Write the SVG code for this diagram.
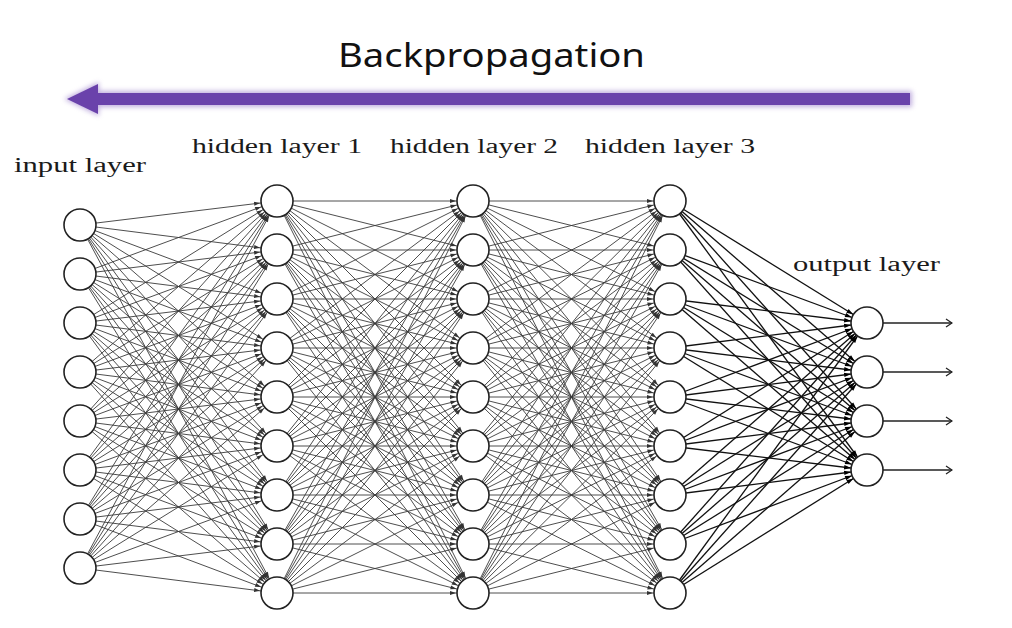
<svg xmlns="http://www.w3.org/2000/svg" width="1012" height="628" viewBox="0 0 1012 628">
<style>
.e1{stroke:#3a3a3a;stroke-width:0.9;marker-end:url(#ah)}
.e2{stroke:#111;stroke-width:1.3;marker-end:url(#ah2)}
.out{stroke:#222;stroke-width:1.3;marker-end:url(#chev)}
.node circle{fill:#fff;stroke:#222;stroke-width:1.6}
.lbl{font-family:"Liberation Serif","DejaVu Serif",serif;font-size:20px;fill:#1a1a1a}
.title{font-family:"Noto Sans","Lato",sans-serif;font-size:33px;fill:#111}
</style>
<defs>
<marker id="ah" viewBox="0 0 26 8" refX="24" refY="4" markerWidth="26" markerHeight="8" markerUnits="userSpaceOnUse" orient="auto"><path d="M1,2 L7,4 L1,6 z" fill="#333"/></marker>
<marker id="ah2" viewBox="0 0 26 8" refX="24" refY="4" markerWidth="26" markerHeight="8" markerUnits="userSpaceOnUse" orient="auto"><path d="M1,1.8 L8,4 L1,6.2 z" fill="#000"/></marker>
<marker id="chev" viewBox="0 0 8 10" refX="7" refY="5" markerWidth="8" markerHeight="10" markerUnits="userSpaceOnUse" orient="auto"><path d="M1,1 L7,5 L1,9" fill="none" stroke="#222" stroke-width="1.3"/></marker>
<filter id="glow" x="-5%" y="-80%" width="110%" height="260%"><feGaussianBlur stdDeviation="2.5"/></filter>
</defs>
<rect width="1012" height="628" fill="#fff"/>
<g id="title">
<text class="title" x="338" y="67" textLength="307" lengthAdjust="spacingAndGlyphs">Backpropagation</text>
</g>
<g id="backprop-arrow">
<g filter="url(#glow)" opacity="0.55" fill="#8d6cc4">
<rect x="92" y="91" width="820" height="16"/>
<polygon points="64,99 99,82 99,116"/>
</g>
<rect x="95" y="93" width="815" height="12" fill="#6a42ab"/>
<polygon points="67,99 98,84 98,114" fill="#6a42ab"/>
</g>
<g id="labels">
<text class="lbl" x="14" y="172" textLength="132" lengthAdjust="spacingAndGlyphs">input layer</text>
<text class="lbl" x="192" y="153" textLength="170" lengthAdjust="spacingAndGlyphs">hidden layer 1</text>
<text class="lbl" x="390" y="153" textLength="168" lengthAdjust="spacingAndGlyphs">hidden layer 2</text>
<text class="lbl" x="585" y="153" textLength="170" lengthAdjust="spacingAndGlyphs">hidden layer 3</text>
<text class="lbl" x="793" y="271" textLength="147" lengthAdjust="spacingAndGlyphs">output layer</text>
</g>
<g id="connectors">
<g id="edges-input-h1">
<line class="e1" x1="80" y1="225" x2="277" y2="201"/><line class="e1" x1="80" y1="225" x2="277" y2="250"/><line class="e1" x1="80" y1="225" x2="277" y2="299"/><line class="e1" x1="80" y1="225" x2="277" y2="348"/><line class="e1" x1="80" y1="225" x2="277" y2="397"/><line class="e1" x1="80" y1="225" x2="277" y2="446"/><line class="e1" x1="80" y1="225" x2="277" y2="495"/><line class="e1" x1="80" y1="225" x2="277" y2="544"/><line class="e1" x1="80" y1="225" x2="277" y2="593"/>
<line class="e1" x1="80" y1="274" x2="277" y2="201"/><line class="e1" x1="80" y1="274" x2="277" y2="250"/><line class="e1" x1="80" y1="274" x2="277" y2="299"/><line class="e1" x1="80" y1="274" x2="277" y2="348"/><line class="e1" x1="80" y1="274" x2="277" y2="397"/><line class="e1" x1="80" y1="274" x2="277" y2="446"/><line class="e1" x1="80" y1="274" x2="277" y2="495"/><line class="e1" x1="80" y1="274" x2="277" y2="544"/><line class="e1" x1="80" y1="274" x2="277" y2="593"/>
<line class="e1" x1="80" y1="323" x2="277" y2="201"/><line class="e1" x1="80" y1="323" x2="277" y2="250"/><line class="e1" x1="80" y1="323" x2="277" y2="299"/><line class="e1" x1="80" y1="323" x2="277" y2="348"/><line class="e1" x1="80" y1="323" x2="277" y2="397"/><line class="e1" x1="80" y1="323" x2="277" y2="446"/><line class="e1" x1="80" y1="323" x2="277" y2="495"/><line class="e1" x1="80" y1="323" x2="277" y2="544"/><line class="e1" x1="80" y1="323" x2="277" y2="593"/>
<line class="e1" x1="80" y1="372" x2="277" y2="201"/><line class="e1" x1="80" y1="372" x2="277" y2="250"/><line class="e1" x1="80" y1="372" x2="277" y2="299"/><line class="e1" x1="80" y1="372" x2="277" y2="348"/><line class="e1" x1="80" y1="372" x2="277" y2="397"/><line class="e1" x1="80" y1="372" x2="277" y2="446"/><line class="e1" x1="80" y1="372" x2="277" y2="495"/><line class="e1" x1="80" y1="372" x2="277" y2="544"/><line class="e1" x1="80" y1="372" x2="277" y2="593"/>
<line class="e1" x1="80" y1="421" x2="277" y2="201"/><line class="e1" x1="80" y1="421" x2="277" y2="250"/><line class="e1" x1="80" y1="421" x2="277" y2="299"/><line class="e1" x1="80" y1="421" x2="277" y2="348"/><line class="e1" x1="80" y1="421" x2="277" y2="397"/><line class="e1" x1="80" y1="421" x2="277" y2="446"/><line class="e1" x1="80" y1="421" x2="277" y2="495"/><line class="e1" x1="80" y1="421" x2="277" y2="544"/><line class="e1" x1="80" y1="421" x2="277" y2="593"/>
<line class="e1" x1="80" y1="470" x2="277" y2="201"/><line class="e1" x1="80" y1="470" x2="277" y2="250"/><line class="e1" x1="80" y1="470" x2="277" y2="299"/><line class="e1" x1="80" y1="470" x2="277" y2="348"/><line class="e1" x1="80" y1="470" x2="277" y2="397"/><line class="e1" x1="80" y1="470" x2="277" y2="446"/><line class="e1" x1="80" y1="470" x2="277" y2="495"/><line class="e1" x1="80" y1="470" x2="277" y2="544"/><line class="e1" x1="80" y1="470" x2="277" y2="593"/>
<line class="e1" x1="80" y1="519" x2="277" y2="201"/><line class="e1" x1="80" y1="519" x2="277" y2="250"/><line class="e1" x1="80" y1="519" x2="277" y2="299"/><line class="e1" x1="80" y1="519" x2="277" y2="348"/><line class="e1" x1="80" y1="519" x2="277" y2="397"/><line class="e1" x1="80" y1="519" x2="277" y2="446"/><line class="e1" x1="80" y1="519" x2="277" y2="495"/><line class="e1" x1="80" y1="519" x2="277" y2="544"/><line class="e1" x1="80" y1="519" x2="277" y2="593"/>
<line class="e1" x1="80" y1="568" x2="277" y2="201"/><line class="e1" x1="80" y1="568" x2="277" y2="250"/><line class="e1" x1="80" y1="568" x2="277" y2="299"/><line class="e1" x1="80" y1="568" x2="277" y2="348"/><line class="e1" x1="80" y1="568" x2="277" y2="397"/><line class="e1" x1="80" y1="568" x2="277" y2="446"/><line class="e1" x1="80" y1="568" x2="277" y2="495"/><line class="e1" x1="80" y1="568" x2="277" y2="544"/><line class="e1" x1="80" y1="568" x2="277" y2="593"/>
</g>
<g id="edges-h1-h2">
<line class="e1" x1="277" y1="201" x2="473" y2="201"/><line class="e1" x1="277" y1="201" x2="473" y2="250"/><line class="e1" x1="277" y1="201" x2="473" y2="299"/><line class="e1" x1="277" y1="201" x2="473" y2="348"/><line class="e1" x1="277" y1="201" x2="473" y2="397"/><line class="e1" x1="277" y1="201" x2="473" y2="446"/><line class="e1" x1="277" y1="201" x2="473" y2="495"/><line class="e1" x1="277" y1="201" x2="473" y2="544"/><line class="e1" x1="277" y1="201" x2="473" y2="593"/>
<line class="e1" x1="277" y1="250" x2="473" y2="201"/><line class="e1" x1="277" y1="250" x2="473" y2="250"/><line class="e1" x1="277" y1="250" x2="473" y2="299"/><line class="e1" x1="277" y1="250" x2="473" y2="348"/><line class="e1" x1="277" y1="250" x2="473" y2="397"/><line class="e1" x1="277" y1="250" x2="473" y2="446"/><line class="e1" x1="277" y1="250" x2="473" y2="495"/><line class="e1" x1="277" y1="250" x2="473" y2="544"/><line class="e1" x1="277" y1="250" x2="473" y2="593"/>
<line class="e1" x1="277" y1="299" x2="473" y2="201"/><line class="e1" x1="277" y1="299" x2="473" y2="250"/><line class="e1" x1="277" y1="299" x2="473" y2="299"/><line class="e1" x1="277" y1="299" x2="473" y2="348"/><line class="e1" x1="277" y1="299" x2="473" y2="397"/><line class="e1" x1="277" y1="299" x2="473" y2="446"/><line class="e1" x1="277" y1="299" x2="473" y2="495"/><line class="e1" x1="277" y1="299" x2="473" y2="544"/><line class="e1" x1="277" y1="299" x2="473" y2="593"/>
<line class="e1" x1="277" y1="348" x2="473" y2="201"/><line class="e1" x1="277" y1="348" x2="473" y2="250"/><line class="e1" x1="277" y1="348" x2="473" y2="299"/><line class="e1" x1="277" y1="348" x2="473" y2="348"/><line class="e1" x1="277" y1="348" x2="473" y2="397"/><line class="e1" x1="277" y1="348" x2="473" y2="446"/><line class="e1" x1="277" y1="348" x2="473" y2="495"/><line class="e1" x1="277" y1="348" x2="473" y2="544"/><line class="e1" x1="277" y1="348" x2="473" y2="593"/>
<line class="e1" x1="277" y1="397" x2="473" y2="201"/><line class="e1" x1="277" y1="397" x2="473" y2="250"/><line class="e1" x1="277" y1="397" x2="473" y2="299"/><line class="e1" x1="277" y1="397" x2="473" y2="348"/><line class="e1" x1="277" y1="397" x2="473" y2="397"/><line class="e1" x1="277" y1="397" x2="473" y2="446"/><line class="e1" x1="277" y1="397" x2="473" y2="495"/><line class="e1" x1="277" y1="397" x2="473" y2="544"/><line class="e1" x1="277" y1="397" x2="473" y2="593"/>
<line class="e1" x1="277" y1="446" x2="473" y2="201"/><line class="e1" x1="277" y1="446" x2="473" y2="250"/><line class="e1" x1="277" y1="446" x2="473" y2="299"/><line class="e1" x1="277" y1="446" x2="473" y2="348"/><line class="e1" x1="277" y1="446" x2="473" y2="397"/><line class="e1" x1="277" y1="446" x2="473" y2="446"/><line class="e1" x1="277" y1="446" x2="473" y2="495"/><line class="e1" x1="277" y1="446" x2="473" y2="544"/><line class="e1" x1="277" y1="446" x2="473" y2="593"/>
<line class="e1" x1="277" y1="495" x2="473" y2="201"/><line class="e1" x1="277" y1="495" x2="473" y2="250"/><line class="e1" x1="277" y1="495" x2="473" y2="299"/><line class="e1" x1="277" y1="495" x2="473" y2="348"/><line class="e1" x1="277" y1="495" x2="473" y2="397"/><line class="e1" x1="277" y1="495" x2="473" y2="446"/><line class="e1" x1="277" y1="495" x2="473" y2="495"/><line class="e1" x1="277" y1="495" x2="473" y2="544"/><line class="e1" x1="277" y1="495" x2="473" y2="593"/>
<line class="e1" x1="277" y1="544" x2="473" y2="201"/><line class="e1" x1="277" y1="544" x2="473" y2="250"/><line class="e1" x1="277" y1="544" x2="473" y2="299"/><line class="e1" x1="277" y1="544" x2="473" y2="348"/><line class="e1" x1="277" y1="544" x2="473" y2="397"/><line class="e1" x1="277" y1="544" x2="473" y2="446"/><line class="e1" x1="277" y1="544" x2="473" y2="495"/><line class="e1" x1="277" y1="544" x2="473" y2="544"/><line class="e1" x1="277" y1="544" x2="473" y2="593"/>
<line class="e1" x1="277" y1="593" x2="473" y2="201"/><line class="e1" x1="277" y1="593" x2="473" y2="250"/><line class="e1" x1="277" y1="593" x2="473" y2="299"/><line class="e1" x1="277" y1="593" x2="473" y2="348"/><line class="e1" x1="277" y1="593" x2="473" y2="397"/><line class="e1" x1="277" y1="593" x2="473" y2="446"/><line class="e1" x1="277" y1="593" x2="473" y2="495"/><line class="e1" x1="277" y1="593" x2="473" y2="544"/><line class="e1" x1="277" y1="593" x2="473" y2="593"/>
</g>
<g id="edges-h2-h3">
<line class="e1" x1="473" y1="201" x2="670" y2="201"/><line class="e1" x1="473" y1="201" x2="670" y2="250"/><line class="e1" x1="473" y1="201" x2="670" y2="299"/><line class="e1" x1="473" y1="201" x2="670" y2="348"/><line class="e1" x1="473" y1="201" x2="670" y2="397"/><line class="e1" x1="473" y1="201" x2="670" y2="446"/><line class="e1" x1="473" y1="201" x2="670" y2="495"/><line class="e1" x1="473" y1="201" x2="670" y2="544"/><line class="e1" x1="473" y1="201" x2="670" y2="593"/>
<line class="e1" x1="473" y1="250" x2="670" y2="201"/><line class="e1" x1="473" y1="250" x2="670" y2="250"/><line class="e1" x1="473" y1="250" x2="670" y2="299"/><line class="e1" x1="473" y1="250" x2="670" y2="348"/><line class="e1" x1="473" y1="250" x2="670" y2="397"/><line class="e1" x1="473" y1="250" x2="670" y2="446"/><line class="e1" x1="473" y1="250" x2="670" y2="495"/><line class="e1" x1="473" y1="250" x2="670" y2="544"/><line class="e1" x1="473" y1="250" x2="670" y2="593"/>
<line class="e1" x1="473" y1="299" x2="670" y2="201"/><line class="e1" x1="473" y1="299" x2="670" y2="250"/><line class="e1" x1="473" y1="299" x2="670" y2="299"/><line class="e1" x1="473" y1="299" x2="670" y2="348"/><line class="e1" x1="473" y1="299" x2="670" y2="397"/><line class="e1" x1="473" y1="299" x2="670" y2="446"/><line class="e1" x1="473" y1="299" x2="670" y2="495"/><line class="e1" x1="473" y1="299" x2="670" y2="544"/><line class="e1" x1="473" y1="299" x2="670" y2="593"/>
<line class="e1" x1="473" y1="348" x2="670" y2="201"/><line class="e1" x1="473" y1="348" x2="670" y2="250"/><line class="e1" x1="473" y1="348" x2="670" y2="299"/><line class="e1" x1="473" y1="348" x2="670" y2="348"/><line class="e1" x1="473" y1="348" x2="670" y2="397"/><line class="e1" x1="473" y1="348" x2="670" y2="446"/><line class="e1" x1="473" y1="348" x2="670" y2="495"/><line class="e1" x1="473" y1="348" x2="670" y2="544"/><line class="e1" x1="473" y1="348" x2="670" y2="593"/>
<line class="e1" x1="473" y1="397" x2="670" y2="201"/><line class="e1" x1="473" y1="397" x2="670" y2="250"/><line class="e1" x1="473" y1="397" x2="670" y2="299"/><line class="e1" x1="473" y1="397" x2="670" y2="348"/><line class="e1" x1="473" y1="397" x2="670" y2="397"/><line class="e1" x1="473" y1="397" x2="670" y2="446"/><line class="e1" x1="473" y1="397" x2="670" y2="495"/><line class="e1" x1="473" y1="397" x2="670" y2="544"/><line class="e1" x1="473" y1="397" x2="670" y2="593"/>
<line class="e1" x1="473" y1="446" x2="670" y2="201"/><line class="e1" x1="473" y1="446" x2="670" y2="250"/><line class="e1" x1="473" y1="446" x2="670" y2="299"/><line class="e1" x1="473" y1="446" x2="670" y2="348"/><line class="e1" x1="473" y1="446" x2="670" y2="397"/><line class="e1" x1="473" y1="446" x2="670" y2="446"/><line class="e1" x1="473" y1="446" x2="670" y2="495"/><line class="e1" x1="473" y1="446" x2="670" y2="544"/><line class="e1" x1="473" y1="446" x2="670" y2="593"/>
<line class="e1" x1="473" y1="495" x2="670" y2="201"/><line class="e1" x1="473" y1="495" x2="670" y2="250"/><line class="e1" x1="473" y1="495" x2="670" y2="299"/><line class="e1" x1="473" y1="495" x2="670" y2="348"/><line class="e1" x1="473" y1="495" x2="670" y2="397"/><line class="e1" x1="473" y1="495" x2="670" y2="446"/><line class="e1" x1="473" y1="495" x2="670" y2="495"/><line class="e1" x1="473" y1="495" x2="670" y2="544"/><line class="e1" x1="473" y1="495" x2="670" y2="593"/>
<line class="e1" x1="473" y1="544" x2="670" y2="201"/><line class="e1" x1="473" y1="544" x2="670" y2="250"/><line class="e1" x1="473" y1="544" x2="670" y2="299"/><line class="e1" x1="473" y1="544" x2="670" y2="348"/><line class="e1" x1="473" y1="544" x2="670" y2="397"/><line class="e1" x1="473" y1="544" x2="670" y2="446"/><line class="e1" x1="473" y1="544" x2="670" y2="495"/><line class="e1" x1="473" y1="544" x2="670" y2="544"/><line class="e1" x1="473" y1="544" x2="670" y2="593"/>
<line class="e1" x1="473" y1="593" x2="670" y2="201"/><line class="e1" x1="473" y1="593" x2="670" y2="250"/><line class="e1" x1="473" y1="593" x2="670" y2="299"/><line class="e1" x1="473" y1="593" x2="670" y2="348"/><line class="e1" x1="473" y1="593" x2="670" y2="397"/><line class="e1" x1="473" y1="593" x2="670" y2="446"/><line class="e1" x1="473" y1="593" x2="670" y2="495"/><line class="e1" x1="473" y1="593" x2="670" y2="544"/><line class="e1" x1="473" y1="593" x2="670" y2="593"/>
</g>
<g id="edges-h3-output">
<line class="e2" x1="670" y1="201" x2="867" y2="323"/><line class="e2" x1="670" y1="201" x2="867" y2="372"/><line class="e2" x1="670" y1="201" x2="867" y2="421"/><line class="e2" x1="670" y1="201" x2="867" y2="470"/>
<line class="e2" x1="670" y1="250" x2="867" y2="323"/><line class="e2" x1="670" y1="250" x2="867" y2="372"/><line class="e2" x1="670" y1="250" x2="867" y2="421"/><line class="e2" x1="670" y1="250" x2="867" y2="470"/>
<line class="e2" x1="670" y1="299" x2="867" y2="323"/><line class="e2" x1="670" y1="299" x2="867" y2="372"/><line class="e2" x1="670" y1="299" x2="867" y2="421"/><line class="e2" x1="670" y1="299" x2="867" y2="470"/>
<line class="e2" x1="670" y1="348" x2="867" y2="323"/><line class="e2" x1="670" y1="348" x2="867" y2="372"/><line class="e2" x1="670" y1="348" x2="867" y2="421"/><line class="e2" x1="670" y1="348" x2="867" y2="470"/>
<line class="e2" x1="670" y1="397" x2="867" y2="323"/><line class="e2" x1="670" y1="397" x2="867" y2="372"/><line class="e2" x1="670" y1="397" x2="867" y2="421"/><line class="e2" x1="670" y1="397" x2="867" y2="470"/>
<line class="e2" x1="670" y1="446" x2="867" y2="323"/><line class="e2" x1="670" y1="446" x2="867" y2="372"/><line class="e2" x1="670" y1="446" x2="867" y2="421"/><line class="e2" x1="670" y1="446" x2="867" y2="470"/>
<line class="e2" x1="670" y1="495" x2="867" y2="323"/><line class="e2" x1="670" y1="495" x2="867" y2="372"/><line class="e2" x1="670" y1="495" x2="867" y2="421"/><line class="e2" x1="670" y1="495" x2="867" y2="470"/>
<line class="e2" x1="670" y1="544" x2="867" y2="323"/><line class="e2" x1="670" y1="544" x2="867" y2="372"/><line class="e2" x1="670" y1="544" x2="867" y2="421"/><line class="e2" x1="670" y1="544" x2="867" y2="470"/>
<line class="e2" x1="670" y1="593" x2="867" y2="323"/><line class="e2" x1="670" y1="593" x2="867" y2="372"/><line class="e2" x1="670" y1="593" x2="867" y2="421"/><line class="e2" x1="670" y1="593" x2="867" y2="470"/>
</g>
<g id="edges-output">
<line class="out" x1="867" y1="323" x2="952" y2="323"/><line class="out" x1="867" y1="372" x2="952" y2="372"/><line class="out" x1="867" y1="421" x2="952" y2="421"/><line class="out" x1="867" y1="470" x2="952" y2="470"/>
</g>
</g>
<g id="in1" class="node"><circle cx="80" cy="225" r="16"/></g>
<g id="in2" class="node"><circle cx="80" cy="274" r="16"/></g>
<g id="in3" class="node"><circle cx="80" cy="323" r="16"/></g>
<g id="in4" class="node"><circle cx="80" cy="372" r="16"/></g>
<g id="in5" class="node"><circle cx="80" cy="421" r="16"/></g>
<g id="in6" class="node"><circle cx="80" cy="470" r="16"/></g>
<g id="in7" class="node"><circle cx="80" cy="519" r="16"/></g>
<g id="in8" class="node"><circle cx="80" cy="568" r="16"/></g>
<g id="h1n1" class="node"><circle cx="277" cy="201" r="16"/></g>
<g id="h1n2" class="node"><circle cx="277" cy="250" r="16"/></g>
<g id="h1n3" class="node"><circle cx="277" cy="299" r="16"/></g>
<g id="h1n4" class="node"><circle cx="277" cy="348" r="16"/></g>
<g id="h1n5" class="node"><circle cx="277" cy="397" r="16"/></g>
<g id="h1n6" class="node"><circle cx="277" cy="446" r="16"/></g>
<g id="h1n7" class="node"><circle cx="277" cy="495" r="16"/></g>
<g id="h1n8" class="node"><circle cx="277" cy="544" r="16"/></g>
<g id="h1n9" class="node"><circle cx="277" cy="593" r="16"/></g>
<g id="h2n1" class="node"><circle cx="473" cy="201" r="16"/></g>
<g id="h2n2" class="node"><circle cx="473" cy="250" r="16"/></g>
<g id="h2n3" class="node"><circle cx="473" cy="299" r="16"/></g>
<g id="h2n4" class="node"><circle cx="473" cy="348" r="16"/></g>
<g id="h2n5" class="node"><circle cx="473" cy="397" r="16"/></g>
<g id="h2n6" class="node"><circle cx="473" cy="446" r="16"/></g>
<g id="h2n7" class="node"><circle cx="473" cy="495" r="16"/></g>
<g id="h2n8" class="node"><circle cx="473" cy="544" r="16"/></g>
<g id="h2n9" class="node"><circle cx="473" cy="593" r="16"/></g>
<g id="h3n1" class="node"><circle cx="670" cy="201" r="16"/></g>
<g id="h3n2" class="node"><circle cx="670" cy="250" r="16"/></g>
<g id="h3n3" class="node"><circle cx="670" cy="299" r="16"/></g>
<g id="h3n4" class="node"><circle cx="670" cy="348" r="16"/></g>
<g id="h3n5" class="node"><circle cx="670" cy="397" r="16"/></g>
<g id="h3n6" class="node"><circle cx="670" cy="446" r="16"/></g>
<g id="h3n7" class="node"><circle cx="670" cy="495" r="16"/></g>
<g id="h3n8" class="node"><circle cx="670" cy="544" r="16"/></g>
<g id="h3n9" class="node"><circle cx="670" cy="593" r="16"/></g>
<g id="out1" class="node"><circle cx="867" cy="323" r="16"/></g>
<g id="out2" class="node"><circle cx="867" cy="372" r="16"/></g>
<g id="out3" class="node"><circle cx="867" cy="421" r="16"/></g>
<g id="out4" class="node"><circle cx="867" cy="470" r="16"/></g>
</svg>
